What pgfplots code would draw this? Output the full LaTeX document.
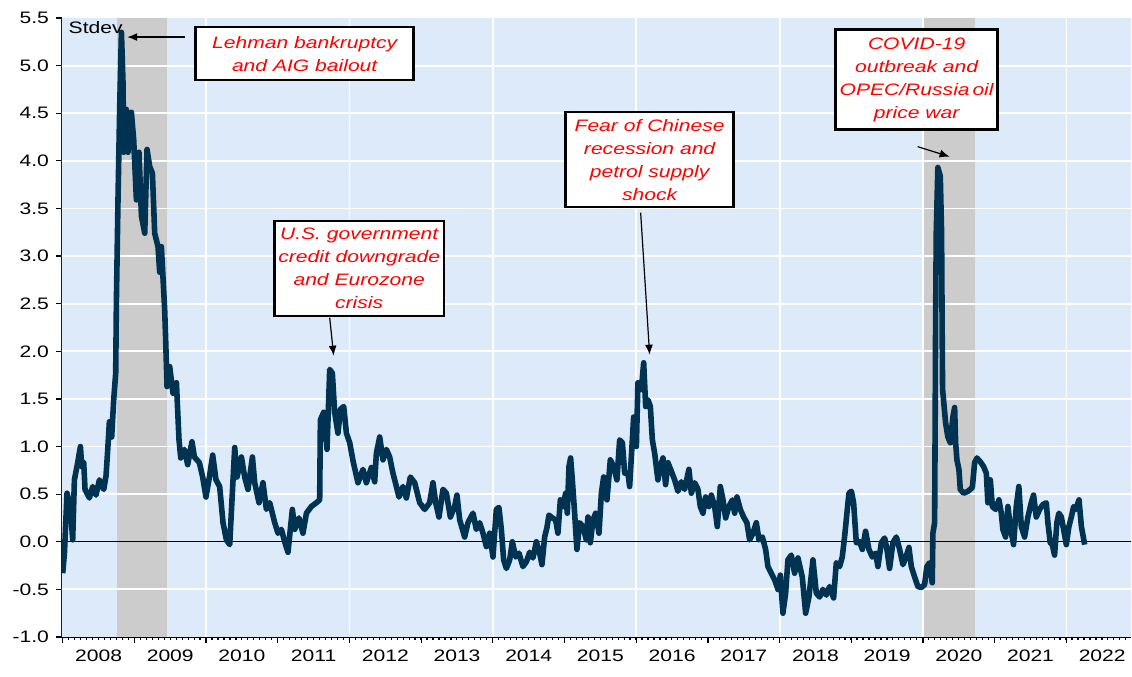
\documentclass[border=0pt]{standalone}
\usepackage{pgfplots}
\pgfplotsset{compat=1.18}
\usepackage{fontspec}
\setmainfont{Liberation Sans}[FakeStretch=1.27]
\usetikzlibrary{arrows.meta}

\definecolor{bgblue}{RGB}{221,234,250}
\definecolor{shade}{RGB}{204,204,204}
\definecolor{navy}{RGB}{0,50,82}

\pgfplotstableread{
x y
2008.000 -0.33
2008.024 -0.12
2008.060 0.51
2008.107 0.37
2008.139 0.02
2008.163 0.65
2008.209 0.83
2008.247 1.00
2008.265 0.79
2008.293 0.83
2008.311 0.55
2008.372 0.46
2008.418 0.58
2008.464 0.49
2008.512 0.65
2008.572 0.55
2008.604 0.69
2008.628 0.97
2008.651 1.26
2008.683 1.10
2008.711 1.49
2008.739 1.77
2008.749 2.54
2008.771 3.59
2008.795 4.57
2008.819 5.35
2008.841 4.82
2008.851 4.09
2008.888 4.54
2008.911 4.09
2008.958 4.51
2008.990 4.22
2009.028 3.59
2009.064 4.09
2009.098 3.42
2009.144 3.24
2009.176 4.12
2009.213 3.94
2009.251 3.87
2009.283 3.24
2009.329 3.10
2009.353 2.83
2009.376 3.10
2009.422 2.44
2009.436 2.12
2009.455 1.63
2009.492 1.84
2009.538 1.56
2009.586 1.67
2009.622 1.07
2009.646 0.88
2009.697 0.97
2009.743 0.81
2009.803 1.05
2009.837 0.89
2009.906 0.83
2009.952 0.68
2009.998 0.47
2010.046 0.68
2010.092 0.91
2010.138 0.65
2010.189 0.58
2010.236 0.20
2010.283 0.02
2010.329 -0.03
2010.361 0.44
2010.399 0.99
2010.431 0.68
2010.492 0.89
2010.538 0.68
2010.584 0.55
2010.646 0.89
2010.678 0.62
2010.738 0.41
2010.793 0.62
2010.841 0.34
2010.887 0.41
2010.957 0.20
2011.003 0.09
2011.050 0.13
2011.096 0.00
2011.142 -0.11
2011.203 0.34
2011.236 0.13
2011.295 0.25
2011.351 0.09
2011.399 0.30
2011.468 0.37
2011.538 0.41
2011.584 0.44
2011.594 1.28
2011.640 1.36
2011.686 0.97
2011.724 1.81
2011.761 1.77
2011.793 1.36
2011.839 1.14
2011.873 1.39
2011.919 1.42
2011.957 1.14
2012.003 1.04
2012.049 0.85
2012.118 0.62
2012.188 0.76
2012.235 0.62
2012.305 0.78
2012.351 0.63
2012.375 0.93
2012.421 1.10
2012.467 0.86
2012.514 0.97
2012.560 0.89
2012.606 0.72
2012.654 0.58
2012.690 0.47
2012.746 0.58
2012.793 0.46
2012.849 0.68
2012.909 0.62
2012.979 0.41
2013.048 0.34
2013.118 0.41
2013.164 0.62
2013.202 0.41
2013.248 0.26
2013.304 0.55
2013.351 0.51
2013.407 0.26
2013.467 0.37
2013.499 0.49
2013.537 0.23
2013.606 0.05
2013.652 0.20
2013.722 0.30
2013.769 0.13
2013.815 0.20
2013.862 0.09
2013.909 -0.05
2013.955 0.09
2014.001 -0.16
2014.048 0.34
2014.084 0.36
2014.118 0.13
2014.150 -0.19
2014.188 -0.28
2014.234 -0.19
2014.271 0.00
2014.318 -0.16
2014.364 -0.12
2014.419 -0.26
2014.467 -0.21
2014.513 -0.11
2014.559 -0.17
2014.606 0.00
2014.652 -0.12
2014.684 -0.24
2014.722 0.05
2014.754 0.15
2014.782 0.28
2014.829 0.25
2014.875 0.23
2014.907 0.09
2014.941 0.44
2014.977 0.37
2015.015 0.51
2015.038 0.30
2015.061 0.79
2015.084 0.88
2015.108 0.65
2015.140 0.30
2015.172 -0.08
2015.210 0.20
2015.256 0.16
2015.303 0.02
2015.326 0.26
2015.359 -0.01
2015.396 0.23
2015.433 0.30
2015.480 0.09
2015.513 0.51
2015.545 0.68
2015.591 0.44
2015.638 0.86
2015.684 0.79
2015.730 0.65
2015.768 1.07
2015.806 1.04
2015.838 0.72
2015.884 0.72
2015.907 0.58
2015.945 1.07
2015.963 1.31
2016.001 1.00
2016.023 1.67
2016.071 1.60
2016.103 1.88
2016.131 1.42
2016.163 1.49
2016.196 1.42
2016.224 1.07
2016.256 0.93
2016.302 0.65
2016.326 0.76
2016.372 0.88
2016.409 0.60
2016.442 0.83
2016.489 0.74
2016.535 0.65
2016.581 0.53
2016.628 0.63
2016.674 0.55
2016.734 0.76
2016.768 0.51
2016.814 0.62
2016.860 0.55
2016.893 0.37
2016.930 0.30
2016.967 0.47
2017.013 0.37
2017.047 0.49
2017.093 0.37
2017.130 0.16
2017.172 0.58
2017.209 0.44
2017.246 0.25
2017.292 0.37
2017.340 0.44
2017.372 0.30
2017.404 0.47
2017.451 0.34
2017.497 0.26
2017.543 0.20
2017.581 0.02
2017.627 0.09
2017.674 0.20
2017.711 0.02
2017.758 0.05
2017.804 -0.08
2017.836 -0.26
2017.883 -0.33
2017.930 -0.40
2017.976 -0.50
2018.009 -0.35
2018.045 -0.75
2018.083 -0.54
2018.115 -0.19
2018.162 -0.14
2018.208 -0.33
2018.255 -0.17
2018.315 -0.37
2018.362 -0.75
2018.408 -0.58
2018.464 -0.19
2018.511 -0.54
2018.557 -0.58
2018.603 -0.50
2018.650 -0.56
2018.696 -0.47
2018.752 -0.59
2018.790 -0.22
2018.836 -0.26
2018.873 -0.16
2018.905 0.05
2018.938 0.30
2018.966 0.51
2019.000 0.53
2019.031 0.41
2019.069 -0.01
2019.115 0.00
2019.153 -0.08
2019.198 0.11
2019.245 -0.08
2019.292 -0.16
2019.338 -0.12
2019.370 -0.26
2019.418 -0.01
2019.464 0.04
2019.496 -0.08
2019.533 -0.28
2019.579 -0.01
2019.627 0.05
2019.673 -0.08
2019.719 -0.24
2019.757 -0.17
2019.803 -0.06
2019.836 -0.26
2019.882 -0.37
2019.928 -0.47
2019.975 -0.48
2020.021 -0.45
2020.053 -0.26
2020.091 -0.22
2020.128 -0.43
2020.137 0.09
2020.161 0.20
2020.169 1.31
2020.175 2.36
2020.184 3.25
2020.206 3.93
2020.240 3.84
2020.258 3.25
2020.265 2.36
2020.272 1.60
2020.314 1.25
2020.346 1.10
2020.380 1.04
2020.416 1.31
2020.440 1.41
2020.454 1.04
2020.472 0.86
2020.500 0.76
2020.519 0.55
2020.565 0.51
2020.625 0.53
2020.687 0.57
2020.719 0.83
2020.751 0.88
2020.798 0.84
2020.844 0.79
2020.882 0.72
2020.904 0.41
2020.938 0.65
2020.966 0.37
2021.012 0.34
2021.058 0.44
2021.091 0.30
2021.113 0.13
2021.151 0.05
2021.183 0.37
2021.216 0.16
2021.262 -0.03
2021.300 0.37
2021.336 0.58
2021.370 0.16
2021.416 0.05
2021.462 0.26
2021.509 0.41
2021.541 0.49
2021.579 0.26
2021.625 0.34
2021.671 0.39
2021.718 0.41
2021.741 0.20
2021.774 -0.01
2021.802 -0.03
2021.834 -0.14
2021.866 0.20
2021.894 0.30
2021.928 0.26
2021.960 0.13
2021.998 -0.03
2022.034 0.16
2022.068 0.26
2022.100 0.37
2022.129 0.34
2022.175 0.44
2022.208 0.16
2022.254 -0.03
}\stdev

\begin{document}
\begin{tikzpicture}[font=\fontsize{8.3}{10}\selectfont]
\begin{axis}[
    scale only axis,
    width=534.5pt, height=309.5pt,
    xmin=2007.99, xmax=2022.9,
    ymin=-1, ymax=5.5,
    axis x line*=bottom, axis y line*=left,
    axis line style={line width=1pt, black, -},
    tick align=outside,
    major tick length=3pt,
    minor tick length=1.5pt,
    tick style={black, line width=0.6pt},
    xtick={2008,...,2022},
    xticklabels={},
    minor xtick={2008,2008.0833333,...,2022.9},
    extra x ticks={2008.5,2009.5,...,2022.5},
    extra x tick labels={2008,2009,2010,2011,2012,2013,2014,2015,2016,2017,2018,2019,2020,2021,2022},
    extra x tick style={major tick length=0pt},
    ytick={-1,-0.5,...,5.5},
    yticklabel style={/pgf/number format/.cd, fixed, fixed zerofill, precision=1},
    /pgf/number format/assume math mode=true,
    xticklabel style={yshift=-3pt},
    clip=true,
]
% background and shaded periods
\addplot[fill=bgblue, draw=none] coordinates {(2007.9,-1) (2007.9,5.5) (2023,5.5) (2023,-1)} -- cycle;
\addplot[fill=shade, draw=none] coordinates {(2008.753,-1) (2008.753,5.5) (2009.45,5.5) (2009.45,-1)} -- cycle;
\addplot[fill=shade, draw=none] coordinates {(2020.0,-1) (2020.0,5.5) (2020.719,5.5) (2020.719,-1)} -- cycle;
% grid
\pgfplotsinvokeforeach{-0.5,0.5,1,1.5,2,2.5,3,3.5,4,4.5,5}{
  \draw[white, line width=0.9pt] (axis cs:2007.9,#1) -- (axis cs:2023,#1);
}
\pgfplotsinvokeforeach{2010,2012,2014,2016,2018,2020,2022}{
  \draw[white, line width=0.9pt] (axis cs:#1,-1) -- (axis cs:#1,5.5);
}
\draw[black, line width=0.6pt] (axis cs:2007.9,0) -- (axis cs:2023,0);

\addplot[navy, line width=2.8pt, line join=round, no marks] table[x=x, y=y] {\stdev};

\node[anchor=west, inner sep=1pt] at (axis cs:2008.05,5.40) {Stdev};

\tikzset{ann/.style={draw=black, line width=1.2pt, fill=white, align=center, text=red,
    font=\fontsize{8.3}{11.5}\selectfont\itshape, inner xsep=2pt, inner ysep=3.5pt}}
\node[ann, minimum width=109pt, inner ysep=4.5pt] at (axis cs:2011.375,5.126) {Lehman bankruptcy\\and AIG bailout};
\node[ann, minimum width=84.5pt] at (axis cs:2012.135,2.868) {U.S. government\\credit downgrade\\and Eurozone\\crisis};
\node[ann, minimum width=84pt] at (axis cs:2016.186,4.013) {Fear of Chinese\\recession and\\petrol supply\\shock};
\node[ann, minimum width=78.5pt, inner ysep=4pt] at (axis cs:2019.910,4.853) {COVID-19\\outbreak and\\OPEC/Russia\kern-1.5pt~oil\\price war};

\draw[-{Latex[length=5pt,width=4pt]}, line width=0.6pt] (axis cs:2009.70,5.30) -- (axis cs:2008.90,5.30);
\draw[-{Latex[length=5pt,width=4pt]}, line width=0.6pt] (axis cs:2011.724,2.353) -- (axis cs:2011.779,1.954);
\draw[-{Latex[length=5pt,width=4pt]}, line width=0.6pt] (axis cs:2016.061,3.456) -- (axis cs:2016.186,1.964);
\draw[-{Latex[length=5pt,width=4pt]}, line width=0.6pt] (axis cs:2019.924,4.149) -- (axis cs:2020.370,4.044);
\end{axis}
\pgfresetboundingbox
\path (-31pt,-19.5pt) rectangle (535pt,318.5pt);
\end{tikzpicture}
\end{document}
